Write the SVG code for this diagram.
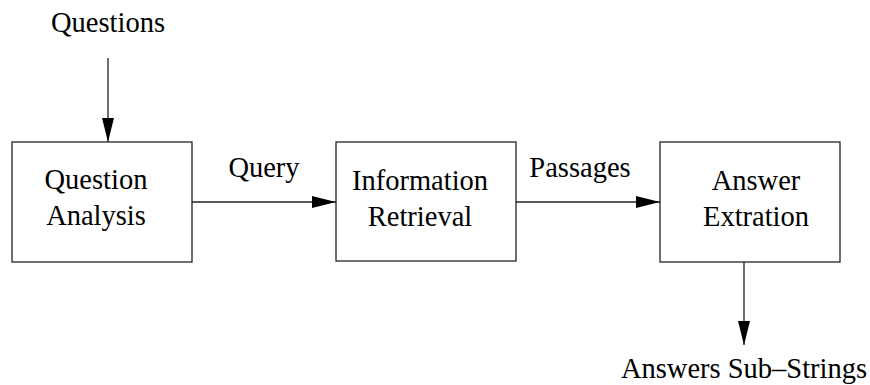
<svg xmlns="http://www.w3.org/2000/svg" width="870" height="385" viewBox="0 0 870 385">
  <style>
    .box { fill: #fff; stroke: #222; stroke-width: 1.3; }
    .edge { fill: none; stroke: #222; stroke-width: 1.3; }
    .lbl { fill: #000; text-anchor: middle; font-family: "Liberation Serif", serif; font-size: 28.5px; }
  </style>
  <defs>
    <marker id="arrow" markerUnits="userSpaceOnUse" markerWidth="24" markerHeight="12" viewBox="0 0 22 11" refX="22" refY="5.5" orient="auto">
      <path d="M0,0 L22,5.5 L0,11 Z" fill="#000"/>
    </marker>
  </defs>
  <rect width="870" height="385" fill="#fff"/>

  <g id="connectors">
    <line class="edge" x1="108" y1="58" x2="108" y2="142" marker-end="url(#arrow)"/>
    <line class="edge" x1="192" y1="202" x2="336" y2="202" marker-end="url(#arrow)"/>
    <line class="edge" x1="516" y1="202" x2="660" y2="202" marker-end="url(#arrow)"/>
    <line class="edge" x1="744" y1="262" x2="744" y2="345" marker-end="url(#arrow)"/>
    <text class="lbl" x="264" y="177">Query</text>
    <text class="lbl" x="580" y="177">Passages</text>
  </g>

  <g id="questions-input">
    <text class="lbl" x="108" y="32">Questions</text>
  </g>

  <g id="question-analysis">
    <rect class="box" x="12" y="142" width="180" height="120"/>
    <text class="lbl" x="96" y="189">Question</text>
    <text class="lbl" x="96" y="225">Analysis</text>
  </g>

  <g id="information-retrieval">
    <rect class="box" x="336" y="142" width="180" height="119"/>
    <text class="lbl" x="420" y="190">Information</text>
    <text class="lbl" x="420" y="226">Retrieval</text>
  </g>

  <g id="answer-extraction">
    <rect class="box" x="660" y="142" width="180" height="120"/>
    <text class="lbl" x="756" y="190">Answer</text>
    <text class="lbl" x="756" y="226">Extration</text>
  </g>

  <g id="answers-output">
    <text class="lbl" x="744" y="378">Answers Sub&#8211;Strings</text>
  </g>
</svg>
